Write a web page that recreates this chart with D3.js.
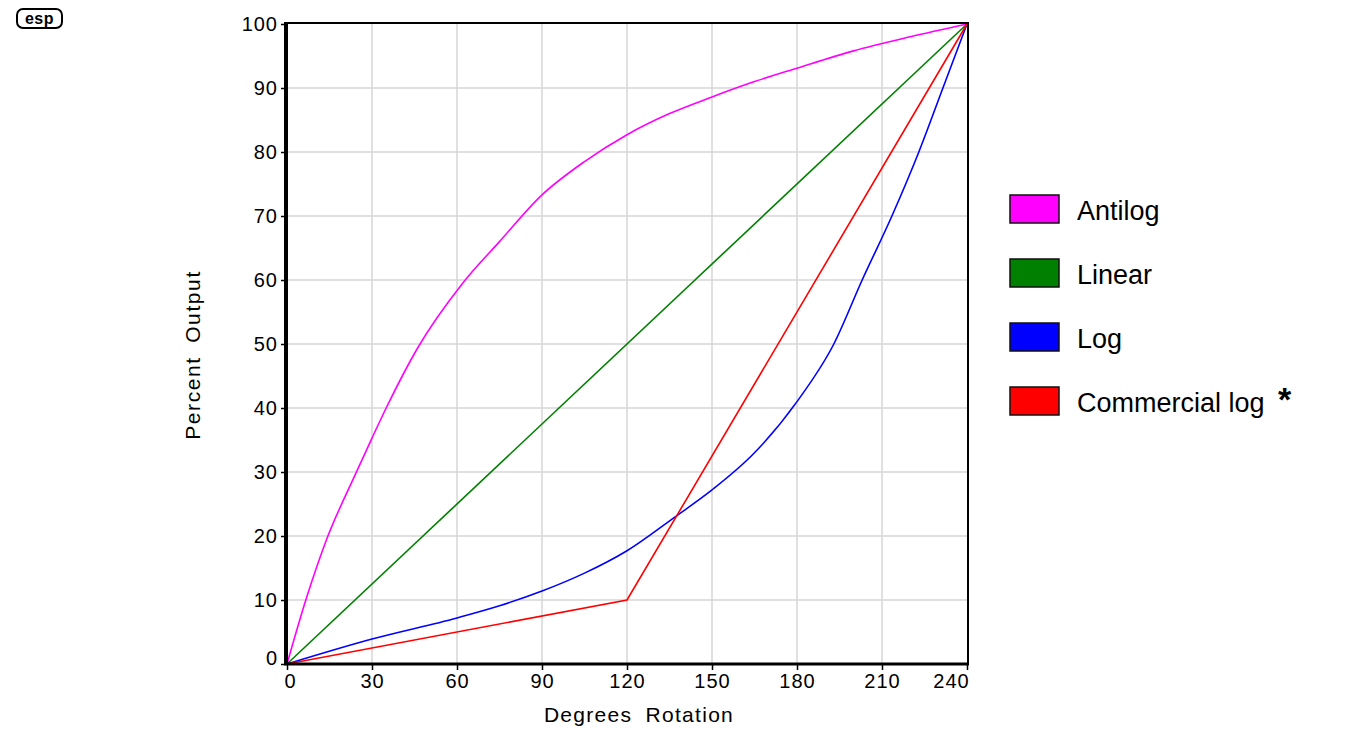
<!DOCTYPE html>
<html>
<head>
<meta charset="utf-8">
<script src="https://cdn.jsdelivr.net/npm/d3@7"></script>
<style>
  body { margin: 0; background: #fff; }
  svg { display: block; font-family: "Liberation Sans", Arial, sans-serif; }
  .grid line { stroke: #d6d6d6; stroke-width: 1.5; }
  .tick text { font-size: 20px; letter-spacing: 1px; fill: #000; }
  .tick line { stroke: #000; stroke-width: 1.5; }
  .curve { fill: none; stroke-width: 1.6; }
</style>
</head>
<body>
<svg width="1366" height="747"></svg>
<script>
// values
const xTicks = [0, 30, 60, 90, 120, 150, 180, 210, 240];
const yTicks = [0, 10, 20, 30, 40, 50, 60, 70, 80, 90, 100];

const antilogDeg = [0, 7, 14, 24, 30, 35, 46, 62, 75, 90, 105, 120, 135, 150, 165, 180, 200, 220, 240];
const antilogPct = [0, 10.5, 19.5, 29.5, 35.3, 40, 49.3, 59.5, 66, 73.3, 78.5, 82.7, 86, 88.6, 91, 93.1, 95.8, 98, 100];

const linearDeg = [0, 240];
const linearPct = [0, 100];

const logDeg = [0, 30, 60, 75, 90, 105, 120, 137, 150, 165, 180, 193, 203, 213.5, 223, 231.5, 240];
const logPct = [0, 3.9, 7.2, 9.1, 11.4, 14.2, 17.7, 23, 27.2, 33, 41, 50, 60, 70, 80, 90, 100];

const commDeg = [0, 120, 240];
const commPct = [0, 10, 100];

const seriesNames = ["Antilog", "Linear", "Log", "Commercial log"];
const seriesColors = ["#ff00ff", "#008000", "#0000ff", "#ff0000"];

const series = [
  { name: seriesNames[0], color: seriesColors[0], deg: antilogDeg, pct: antilogPct, curve: d3.curveMonotoneX },
  { name: seriesNames[1], color: seriesColors[1], deg: linearDeg, pct: linearPct, curve: d3.curveLinear },
  { name: seriesNames[2], color: seriesColors[2], deg: logDeg, pct: logPct, curve: d3.curveMonotoneX },
  { name: seriesNames[3], color: seriesColors[3], deg: commDeg, pct: commPct, curve: d3.curveLinear },
];

const svg = d3.select("svg");
const plotLeft = 287, plotRight = 967, plotTop = 24, plotBottom = 664;

const x = d3.scaleLinear().domain([0, 240]).range([plotLeft, plotRight]);
const y = d3.scaleLinear().domain([0, 100]).range([plotBottom, plotTop]);

// grid
const grid = svg.append("g").attr("class", "grid");
grid.selectAll(".gx")
  .data(xTicks.slice(1, -1))
  .enter()
  .append("line")
  .attr("x1", (d) => x(d))
  .attr("x2", (d) => x(d))
  .attr("y1", plotTop)
  .attr("y2", plotBottom);
grid.selectAll(".gy")
  .data(yTicks.slice(1, -1))
  .enter()
  .append("line")
  .attr("x1", plotLeft)
  .attr("x2", plotRight)
  .attr("y1", (d) => y(d))
  .attr("y2", (d) => y(d));

// curves
svg.selectAll(".curve")
  .data(series)
  .enter()
  .append("path")
  .attr("class", "curve")
  .attr("stroke", (d) => d.color)
  .attr("d", (d) =>
    d3.line()
      .x((p) => x(p[0]))
      .y((p) => y(p[1]))
      .curve(d.curve)(d.deg.map((v, i) => [v, d.pct[i]]))
  );

// axes
const yAxis = svg.append("g")
  .attr("transform", `translate(${plotLeft - 1},0)`)
  .call(d3.axisLeft(y).tickValues(yTicks).tickSize(5).tickPadding(3));
yAxis.select(".domain").remove();
// bottom label sits a little higher, like the original
yAxis.selectAll(".tick text").filter((d) => d === 0).attr("y", -6);

const xAxis = svg.append("g")
  .attr("transform", `translate(0,${plotBottom + 1})`)
  .call(d3.axisBottom(x).tickValues(xTicks).tickSize(5).tickPadding(4));
xAxis.select(".domain").remove();
xAxis.selectAll(".tick text").filter((d) => d === 0).attr("x", 3);
xAxis.selectAll(".tick text").filter((d) => d === 240).attr("x", -16);

// frame
svg.append("line").attr("x1", plotLeft).attr("x2", plotRight + 1).attr("y1", plotTop - 1).attr("y2", plotTop - 1)
  .attr("stroke", "#000").attr("stroke-width", 2);
svg.append("line").attr("x1", plotRight + 1).attr("x2", plotRight + 1).attr("y1", plotTop - 2).attr("y2", plotBottom)
  .attr("stroke", "#000").attr("stroke-width", 2);
svg.append("line").attr("x1", plotLeft - 3).attr("x2", plotRight + 2).attr("y1", plotBottom).attr("y2", plotBottom)
  .attr("stroke", "#000").attr("stroke-width", 3);
svg.append("line").attr("x1", plotLeft - 1).attr("x2", plotLeft - 1).attr("y1", plotTop - 2).attr("y2", plotBottom + 1)
  .attr("stroke", "#000").attr("stroke-width", 4);

// axis titles
svg.append("text")
  .attr("x", 639)
  .attr("y", 722)
  .attr("text-anchor", "middle")
  .attr("font-size", 21)
  .attr("letter-spacing", 1.3)
  .attr("word-spacing", 6)
  .text("Degrees Rotation");

svg.append("text")
  .attr("transform", "translate(200,355) rotate(-90)")
  .attr("text-anchor", "middle")
  .attr("font-size", 21)
  .attr("letter-spacing", 1.6)
  .attr("word-spacing", 6)
  .text("Percent Output");

// legend
const legend = svg.selectAll(".legend")
  .data(series)
  .enter()
  .append("g")
  .attr("class", "legend")
  .attr("transform", (d, i) => `translate(1010,${195 + i * 64})`);

legend.append("rect")
  .attr("width", 49)
  .attr("height", 28)
  .attr("fill", (d) => d.color)
  .attr("stroke", "#111")
  .attr("stroke-width", 1.5);

legend.append("text")
  .attr("x", 67)
  .attr("y", 25)
  .attr("font-size", 27)
  .text((d) => d.name);

svg.append("text")
  .attr("x", 1278)
  .attr("y", 411)
  .attr("font-size", 34)
  .attr("font-weight", "bold")
  .text("*");

// esp logo
const logo = svg.append("g").attr("transform", "translate(17,9)");
logo.append("rect")
  .attr("width", 45)
  .attr("height", 19)
  .attr("rx", 6)
  .attr("fill", "none")
  .attr("stroke", "#000")
  .attr("stroke-width", 2);
logo.append("text")
  .attr("x", 22.5)
  .attr("y", 15)
  .attr("text-anchor", "middle")
  .attr("font-size", 16)
  .attr("font-weight", "bold")
  .attr("letter-spacing", 0.5)
  .text("esp");
</script>
</body>
</html>
